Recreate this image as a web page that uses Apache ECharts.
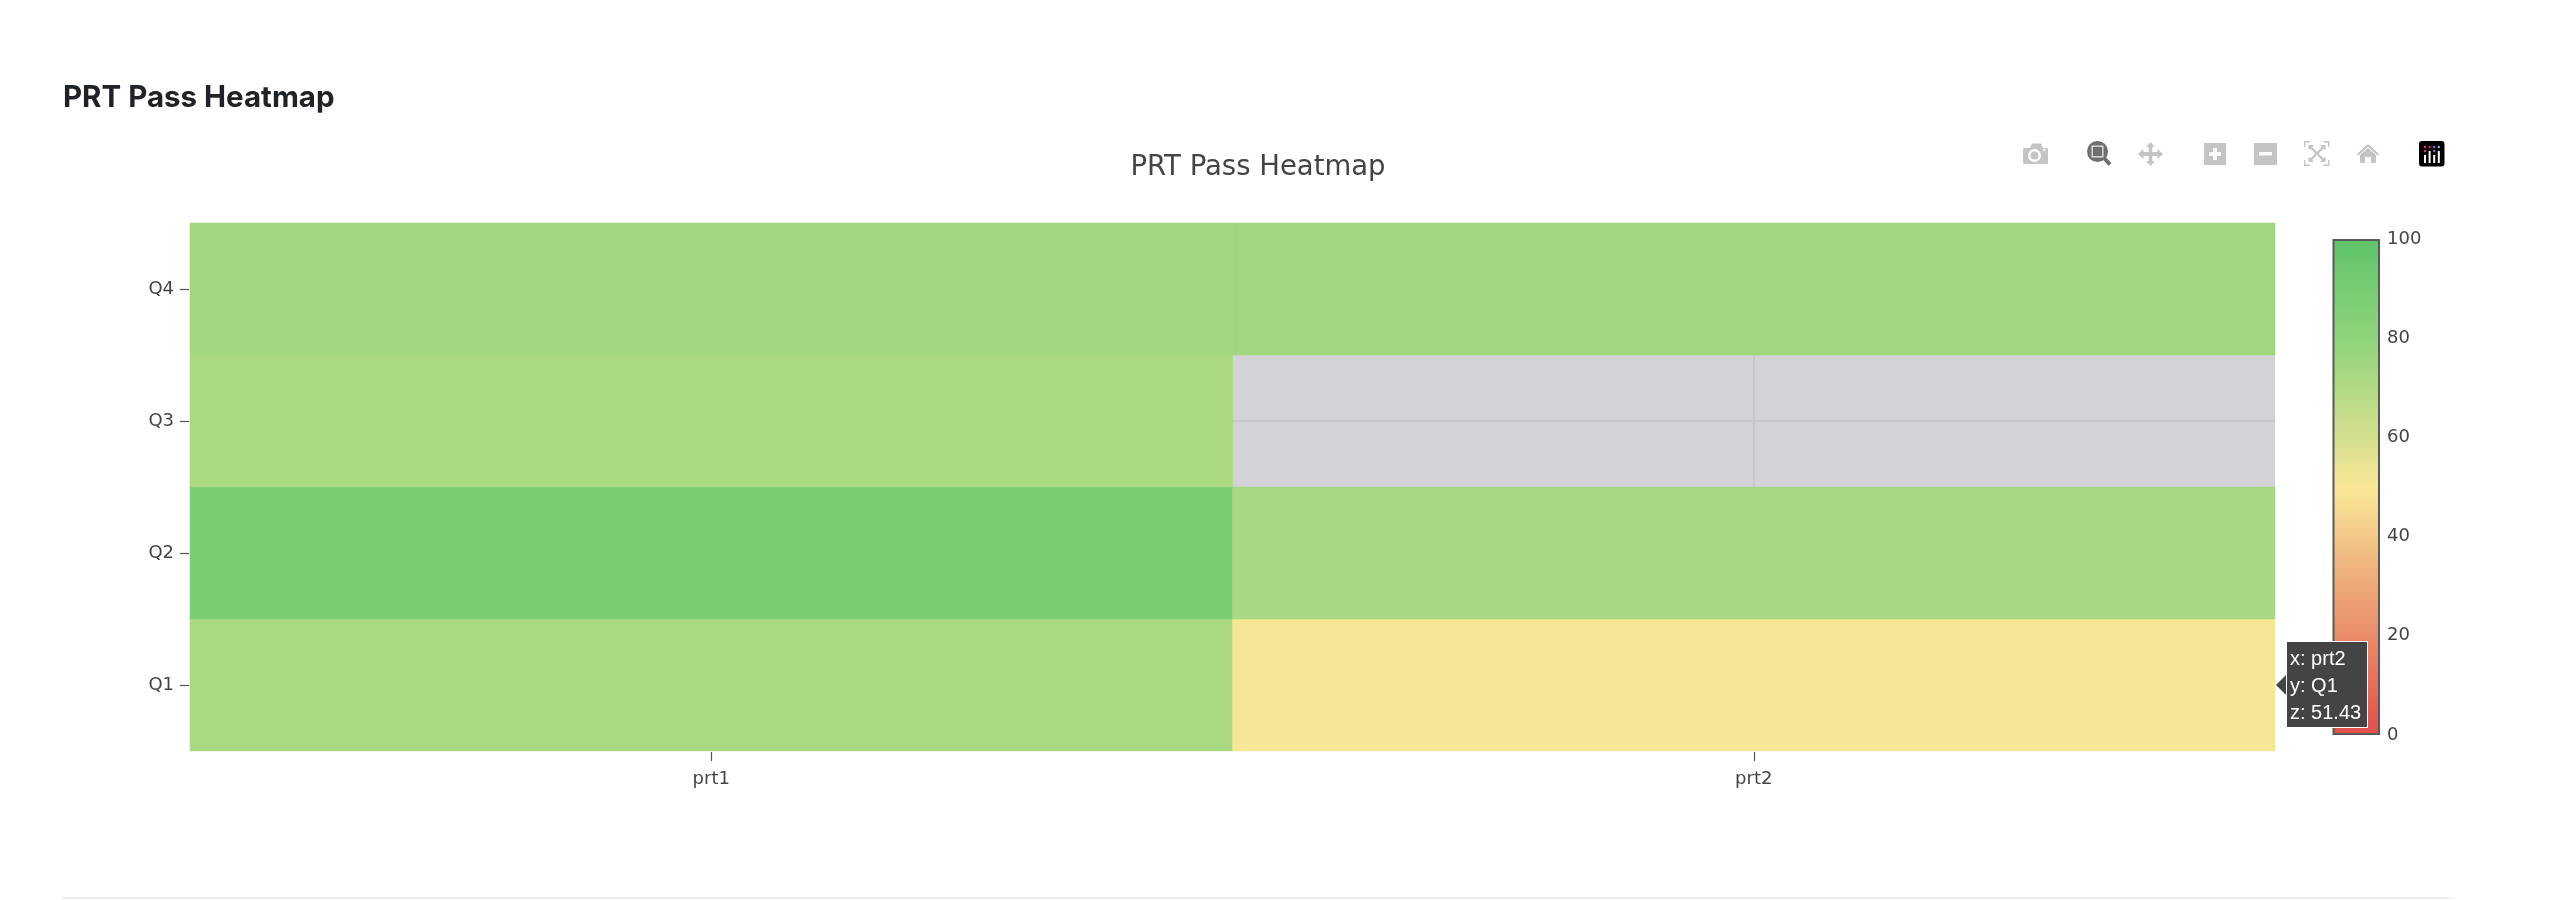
<!DOCTYPE html>
<html><head><meta charset="utf-8">
<style>html,body{margin:0;padding:0;background:#fff}#c{width:2568px;height:900px}</style>
<script src="https://cdn.jsdelivr.net/npm/echarts@6/dist/echarts.min.js"></script>
</head><body><div id="c"></div>
<script>
const xCategories = ['prt1', 'prt2'];
const yCategories = ['Q1', 'Q2', 'Q3', 'Q4'];
const prt1Values = [72, 88.8, 72, 74.5];
const prt2Values = [51.43, 73, null, 74.5];
const colorbarTicks = [0, 20, 40, 60, 80, 100];
const scaleColors = ['#e0504c','#e56e5b','#e98c6a','#eea978','#f3c887','#fae898','#d4df8d','#b2da84','#8fd47b','#77cc72','#5fc46a'];
const pageTitle = 'PRT Pass Heatmap';
const chartTitle = 'PRT Pass Heatmap';
const hoverPoint = ['prt2', 'Q1'];

const cells = [];
[prt1Values, prt2Values].forEach((vals, xi) => vals.forEach((v, yi) => {
  if (v !== null) cells.push([xCategories[xi], yCategories[yi], v]);
}));
const hoverIndex = cells.findIndex(c => c[0] === hoverPoint[0] && c[1] === hoverPoint[1]);

const TICK = '#444', FONT = '"DejaVu Sans", Verdana, sans-serif';
const IDLE = '#c4c4c4', ACTIVE = '#6f6f6f';
const ic = (type, shape, fill) => ({type, shape, style: {fill}, silent: true, z: 20});
const poly = (points, fill) => ic('polygon', {points}, fill);
const stroke = (points, color, w) => ({type: 'polyline', shape: {points}, style: {fill: 'none', stroke: color, lineWidth: w}, silent: true, z: 20});

const icons = [
  // camera
  poly([[2024,148],[2030,148],[2032,143.5],[2041,143.5],[2043,148],[2047,148],[2048,149],[2048,163],[2047,164],[2024,164],[2023,163],[2023,149]], IDLE),
  ic('circle', {cx: 2034.5, cy: 155.5, r: 6.5}, '#fff'),
  ic('circle', {cx: 2034.5, cy: 155.5, r: 4}, IDLE),
  ic('circle', {cx: 2044.3, cy: 150, r: 1.2}, '#fff'),
  // zoom (active)
  ic('circle', {cx: 2097.5, cy: 151.5, r: 10.5}, ACTIVE),
  ic('rect', {x: 2091.5, y: 145.5, width: 12, height: 12}, '#e8e8e8'),
  ic('rect', {x: 2092.8, y: 146.8, width: 9.4, height: 9.4}, ACTIVE),
  stroke([[2104.5,158.5],[2110,164.5]], ACTIVE, 4),
  // pan
  poly([[2150.5,142],[2155,147],[2152.2,147],[2152.2,152],[2157.5,152],[2157.5,149],[2163,154],[2157.5,159],[2157.5,156],[2152.2,156],[2152.2,161],[2155,161],[2150.5,166],[2146,161],[2148.8,161],[2148.8,156],[2143.5,156],[2143.5,159],[2138,154],[2143.5,149],[2143.5,152],[2148.8,152],[2148.8,147],[2146,147]], IDLE),
  // plus
  ic('rect', {x: 2204, y: 143, width: 22, height: 22}, IDLE),
  ic('rect', {x: 2209, y: 152, width: 12, height: 4}, '#fff'),
  ic('rect', {x: 2213, y: 148, width: 4, height: 12}, '#fff'),
  // minus
  ic('rect', {x: 2254, y: 143, width: 23, height: 22}, IDLE),
  ic('rect', {x: 2259, y: 152, width: 13, height: 3.5}, '#fff'),
  // autoscale
  stroke([[2304.7,147],[2304.7,141.7],[2310,141.7]], IDLE, 1.4),
  stroke([[2323.5,141.7],[2328.8,141.7],[2328.8,147]], IDLE, 1.4),
  stroke([[2328.8,160],[2328.8,165.3],[2323.5,165.3]], IDLE, 1.4),
  stroke([[2310,165.3],[2304.7,165.3],[2304.7,160]], IDLE, 1.4),
  stroke([[2311,147.5],[2323,159.5]], IDLE, 2.4),
  stroke([[2323,147.5],[2311,159.5]], IDLE, 2.4),
  poly([[2308.5,145],[2314,145],[2308.5,150.5]], IDLE),
  poly([[2325.5,145],[2325.5,150.5],[2320,145]], IDLE),
  poly([[2308.5,162],[2308.5,156.5],[2314,162]], IDLE),
  poly([[2325.5,162],[2320,162],[2325.5,156.5]], IDLE),
  // home
  poly([[2368,144],[2379,154],[2377.6,155.5],[2368,147],[2358.4,155.5],[2357,154]], IDLE),
  poly([[2368,148],[2376,155],[2376,163],[2371,163],[2371,157],[2365,157],[2365,163],[2360,163],[2360,155]], IDLE),
  // logo
  ic('rect', {x: 2419, y: 141, width: 25.5, height: 25.5, r: 3}, '#000'),
  ic('circle', {cx: 2425, cy: 147, r: 1.2}, '#ef2d6f'),
  ic('circle', {cx: 2429.6, cy: 147, r: 1.2}, '#d0307a'),
  ic('circle', {cx: 2434.2, cy: 147, r: 1.2}, '#9a6fd0'),
  ic('circle', {cx: 2438.8, cy: 147, r: 1.2}, '#5fd0f0'),
  ic('circle', {cx: 2425, cy: 151, r: 1.2}, '#ef2d6f'),
  ic('circle', {cx: 2434.2, cy: 151, r: 1.2}, '#9a6fd0'),
  ic('rect', {x: 2424, y: 155, width: 2, height: 8}, '#fff'),
  ic('rect', {x: 2428.6, y: 151, width: 2, height: 12}, '#fff'),
  ic('rect', {x: 2433.2, y: 155, width: 2, height: 8}, '#fff'),
  ic('rect', {x: 2437.8, y: 151, width: 2, height: 12}, '#fff'),
  // page rule
  ic('rect', {x: 62, y: 897, width: 2391, height: 2}, '#eeeef2')
];

const chart = echarts.init(document.getElementById('c'), null, {renderer: 'canvas'});
chart.setOption({
  animation: false,
  backgroundColor: '#fff',
  title: [
    {text: pageTitle, left: 63, top: 83, padding: 0, textStyle: {fontFamily: 'Inter', fontWeight: 700, fontSize: 29.5, color: '#1f2328'}},
    {text: chartTitle, left: 1258, top: 154, padding: 0, textAlign: 'center', textStyle: {fontFamily: FONT, fontWeight: 'normal', fontSize: 27.5, color: '#444'}}
  ],
  grid: [
    {left: 190, top: 223, width: 2085, height: 528, show: true, backgroundColor: '#d3d2d7', borderWidth: 0},
    {left: 2332.5, top: 239, width: 47.5, height: 496, show: false}
  ],
  xAxis: [
    {type: 'category', gridIndex: 0, data: xCategories, offset: 1,
     axisLine: {show: false}, splitLine: {show: false},
     axisTick: {show: true, alignWithLabel: true, length: 9, lineStyle: {color: '#555', width: 1.2}},
     axisLabel: {color: TICK, fontFamily: FONT, fontSize: 18, margin: 18}},
    {type: 'category', gridIndex: 1, data: ['scale'], show: false}
  ],
  yAxis: [
    {type: 'category', gridIndex: 0, data: yCategories, offset: 1,
     axisLine: {show: false}, splitLine: {show: false},
     axisTick: {show: true, alignWithLabel: true, length: 9, lineStyle: {color: '#555', width: 1.2}},
     axisLabel: {color: TICK, fontFamily: FONT, fontSize: 18, margin: 15, padding: [3, 0, 0, 0]}},
    {type: 'value', gridIndex: 1, min: colorbarTicks[0], max: colorbarTicks[colorbarTicks.length - 1], interval: 20, position: 'right',
     axisLine: {show: false}, axisTick: {show: false}, splitLine: {show: false},
     axisLabel: {color: TICK, fontFamily: FONT, fontSize: 18, margin: 7, padding: [4, 0, 0, 0]}}
  ],
  visualMap: {type: 'continuous', show: false, seriesIndex: 0, min: 0, max: 100, inRange: {color: scaleColors}},
  tooltip: {
    trigger: 'item', alwaysShowContent: true, showDelay: 0, transitionDuration: 0,
    backgroundColor: '#444', borderColor: '#fff', borderWidth: 1.5, padding: [3, 6, 1, 3],
    position: [2286, 641],
    textStyle: {color: '#fff', fontFamily: '"Liberation Sans", Arial, sans-serif', fontSize: 20, lineHeight: 27},
    extraCssText: 'box-shadow:none;border-radius:0;line-height:27px;',
    formatter: p => '<span style="position:absolute;left:-11px;top:33px;width:0;height:0;border-top:10px solid transparent;border-bottom:10px solid transparent;border-right:10px solid #444;"></span>' +
      'x: ' + p.value[0] + '<br>y: ' + p.value[1] + '<br>z: ' + p.value[2]
  },
  graphic: {elements: icons},
  series: [
    {type: 'heatmap', xAxisIndex: 0, yAxisIndex: 0, data: cells, z: 3, itemStyle: {borderWidth: 0}, emphasis: {disabled: true}, progressive: 0},
    {type: 'scatter', xAxisIndex: 0, yAxisIndex: 0, data: [], z: 1, silent: true, tooltip: {show: false},
     markLine: {silent: true, symbol: 'none', z: 1, animation: false, label: {show: false},
       lineStyle: {color: '#c8c7cc', width: 2, type: 'solid'},
       data: [{xAxis: 'prt2'}, {yAxis: 'Q3'}]}},
    {type: 'bar', xAxisIndex: 1, yAxisIndex: 1, data: [colorbarTicks[colorbarTicks.length - 1]], barWidth: '100%', silent: true, tooltip: {show: false},
     itemStyle: {borderColor: '#5a5a5a', borderWidth: 2,
       color: new echarts.graphic.LinearGradient(0, 1, 0, 0, scaleColors.map((c, i) => ({offset: i / (scaleColors.length - 1), color: c})))}}
  ]
});
chart.dispatchAction({type: 'showTip', seriesIndex: 0, dataIndex: hoverIndex});
</script></body></html>
